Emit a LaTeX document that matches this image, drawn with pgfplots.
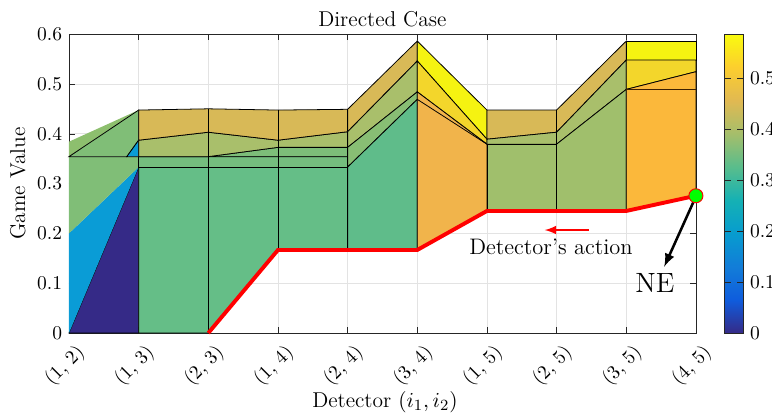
\documentclass[border=0pt]{standalone}
\usepackage{pgfplots}
\pgfplotsset{compat=1.18}
\definecolor{navy}{HTML}{352A87}
\definecolor{lblue}{HTML}{0A9CD6}
\definecolor{gzero}{HTML}{80BE77}
\definecolor{gzerot}{HTML}{8DBF6E}
\definecolor{gL}{HTML}{65BE87}
\definecolor{gB}{HTML}{74BD7E}
\definecolor{gM}{HTML}{7DBE79}
\definecolor{olive}{HTML}{A9BF6B}
\definecolor{golden}{HTML}{D8B957}
\definecolor{teal2}{HTML}{5FBC8A}
\definecolor{lgreen}{HTML}{88BE74}
\definecolor{yel}{HTML}{F5F311}
\definecolor{gold}{HTML}{F3D62B}
\definecolor{orange1}{HTML}{F1B44B}
\definecolor{orange2}{HTML}{FBB83B}
\definecolor{low67}{HTML}{A0BF6C}
\definecolor{gridgray}{HTML}{E3E3E3}
\begin{document}
\begin{tikzpicture}
\useasboundingbox (-35.38pt,-44.10pt) rectangle (360.51pt,170.77pt);
\begin{axis}[
  at={(0,0)}, anchor=south west,
  scale only axis, width=321.5pt, height=153.3pt,
  xmin=0, xmax=9, ymin=0, ymax=0.6,
  xtick={0,1,2,3,4,5,6,7,8,9},
  xticklabels={{(1, 2)},{(1, 3)},{(2, 3)},{(1, 4)},{(2, 4)},{(3, 4)},{(1, 5)},{(2, 5)},{(3, 5)},{(4, 5)}},
  xticklabel style={rotate=45, anchor=east, xshift=2.1pt, yshift=-10.5pt, font=\fontsize{10}{12}\selectfont},
  ytick={0,0.1,0.2,0.3,0.4,0.5,0.6},
  yticklabel style={/pgf/number format/fixed, /pgf/number format/precision=1, font=\fontsize{10}{12}\selectfont},
  grid=major, major grid style={gridgray, line width=0.4pt},
  axis line style={black!85, line width=0.4pt},
  tick style={black!85},
  major tick length=3pt,
  title={Directed Case},
  title style={at={(axis description cs:0.5,1)}, anchor=base, yshift=-1.9pt, font=\fontsize{11}{13}\selectfont},
  xlabel={Detector $(i_1, i_2)$},
  xlabel style={at={(axis description cs:0.504,-0.232)}, anchor=center, font=\fontsize{11}{13}\selectfont},
  ylabel={Game Value},
  ylabel style={at={(axis description cs:-0.0815,0.5)}, anchor=center, font=\fontsize{11}{13}\selectfont},
  colormap={parula}{rgb255=(53,42,135) rgb255=(15,92,221) rgb255=(18,125,216) rgb255=(7,156,207) rgb255=(21,177,180) rgb255=(89,189,140) rgb255=(165,190,107) rgb255=(225,185,82) rgb255=(252,206,46) rgb255=(249,251,14)},
  point meta min=0, point meta max=0.5866,
  colorbar,
  colorbar style={width=9.4pt, at={(parent axis.north east)}, anchor=north west, xshift=6.3pt,
    ytick={0,0.1,0.2,0.3,0.4,0.5},
    yticklabel style={/pgf/number format/fixed, /pgf/number format/precision=1, font=\fontsize{10}{12}\selectfont},
    major tick length=3pt, axis line style={black!85}},
  clip=false,
]
% column 0
\addplot[fill=navy, draw=black, line width=0.4pt] coordinates {(0,0) (1,0.333) (1,0)} -- cycle;
\addplot[fill=lblue, draw=none] coordinates {(0,0) (0,0.2) (1,0.333)} -- cycle;
\addplot[fill=gzero, draw=none] coordinates {(0,0.2) (0,0.354) (1,0.354) (1,0.333)} -- cycle;
\addplot[fill=gzerot, draw=none] coordinates {(0,0.354) (0,0.384) (1,0.4475)} -- cycle;
\addplot[fill=gzero, draw=black, line width=0.4pt] coordinates {(0,0.354) (1,0.4475) (1,0.387) (0.83,0.354)} -- cycle;
\addplot[fill=lblue, draw=black, line width=0.4pt] coordinates {(0.83,0.354) (1,0.387) (1,0.354)} -- cycle;
% columns 1-4
\addplot[fill=gL, draw=black, line width=0.4pt] coordinates {(1,0) (1,0.333) (4,0.333) (4,0.167) (3,0.167) (2,0)} -- cycle;
\addplot[fill=gB, draw=black, line width=0.4pt] coordinates {(1,0.333) (4,0.333) (4,0.354) (1,0.354)} -- cycle;
\addplot[fill=gM, draw=black, line width=0.4pt] coordinates {(1,0.354) (4,0.354) (4,0.3726) (3,0.3726) (2,0.354)} -- cycle;
\addplot[fill=olive, draw=black, line width=0.4pt] coordinates {(1,0.354) (2,0.354) (3,0.3726) (4,0.3726) (4,0.404) (3,0.387) (2,0.403) (1,0.387)} -- cycle;
\addplot[fill=golden, draw=black, line width=0.4pt] coordinates {(1,0.387) (2,0.403) (3,0.387) (4,0.404) (4,0.449) (3,0.4475) (2,0.45) (1,0.4475)} -- cycle;
\addplot[black, line width=0.4pt] coordinates {(2,0) (2,0.45)};
\addplot[black, line width=0.4pt] coordinates {(3,0.167) (3,0.4475)};
% column 4-5
\addplot[fill=golden, draw=black, line width=0.4pt] coordinates {(4,0.449) (5,0.586) (5,0.546) (4,0.404)} -- cycle;
\addplot[fill=olive, draw=black, line width=0.4pt] coordinates {(4,0.404) (5,0.546) (5,0.484) (4,0.3726)} -- cycle;
\addplot[fill=lgreen, draw=black, line width=0.4pt] coordinates {(4,0.3726) (5,0.484) (5,0.469) (4,0.333)} -- cycle;
\addplot[fill=teal2, draw=black, line width=0.4pt] coordinates {(4,0.333) (5,0.469) (5,0.167) (4,0.167)} -- cycle;
% column 5-6
\addplot[fill=yel, draw=black, line width=0.4pt] coordinates {(5,0.586) (6,0.4475) (6,0.389) (5,0.546)} -- cycle;
\addplot[fill=gold, draw=black, line width=0.4pt] coordinates {(5,0.546) (6,0.389) (6,0.379) (5,0.484)} -- cycle;
\addplot[fill=orange1, draw=black, line width=0.4pt] coordinates {(5,0.484) (6,0.379) (6,0.245) (5,0.167)} -- cycle;
\addplot[black, line width=0.4pt] coordinates {(5,0.469) (6,0.379)};
% column 6-7
\addplot[fill=golden, draw=black, line width=0.4pt] coordinates {(6,0.4475) (7,0.4475) (7,0.403) (6,0.389)} -- cycle;
\addplot[fill=olive, draw=black, line width=0.4pt] coordinates {(6,0.389) (7,0.403) (7,0.379) (6,0.379)} -- cycle;
\addplot[fill=low67, draw=black, line width=0.4pt] coordinates {(6,0.379) (7,0.379) (7,0.245) (6,0.245)} -- cycle;
% column 7-8
\addplot[fill=golden, draw=black, line width=0.4pt] coordinates {(7,0.4475) (8,0.586) (8,0.548) (7,0.403)} -- cycle;
\addplot[fill=olive, draw=black, line width=0.4pt] coordinates {(7,0.403) (8,0.548) (8,0.489) (7,0.379)} -- cycle;
\addplot[fill=low67, draw=black, line width=0.4pt] coordinates {(7,0.379) (8,0.489) (8,0.245) (7,0.245)} -- cycle;
% column 8-9
\addplot[fill=yel, draw=black, line width=0.4pt] coordinates {(8,0.586) (9,0.586) (9,0.548) (8,0.548)} -- cycle;
\addplot[fill=gold, draw=black, line width=0.4pt] coordinates {(8,0.548) (9,0.548) (9,0.5245) (8,0.489)} -- cycle;
\addplot[fill=orange2, draw=black, line width=0.4pt] coordinates {(8,0.489) (9,0.5245) (9,0.2755) (8,0.245)} -- cycle;
\addplot[black!60!orange!60!black, line width=0.6pt] coordinates {(8,0.489) (9,0.489)};
% red line
\addplot[red, line width=2pt] coordinates {(2,0) (3,0.1667) (4,0.1667) (5,0.1667) (6,0.245) (7,0.245) (8,0.245) (9,0.2755)};
% annotations
\draw[red, line width=1pt, -latex] (axis cs:7.46,0.2067) -- (axis cs:6.83,0.2067);
\node[font=\fontsize{11.5}{14}\selectfont] at (axis cs:6.92,0.173) {Detector's action};
\draw[black, line width=1.3pt, -latex] (axis cs:8.966,0.2635) -- (axis cs:8.545,0.133);
\node[font=\fontsize{14.3}{17}\selectfont] at (axis cs:8.41,0.0997) {NE};
\addplot[only marks, mark=*, mark size=3.6pt, mark options={fill=green, draw=red, line width=0.5pt}] coordinates {(9,0.2755)};
\end{axis}
\end{tikzpicture}
\end{document}
